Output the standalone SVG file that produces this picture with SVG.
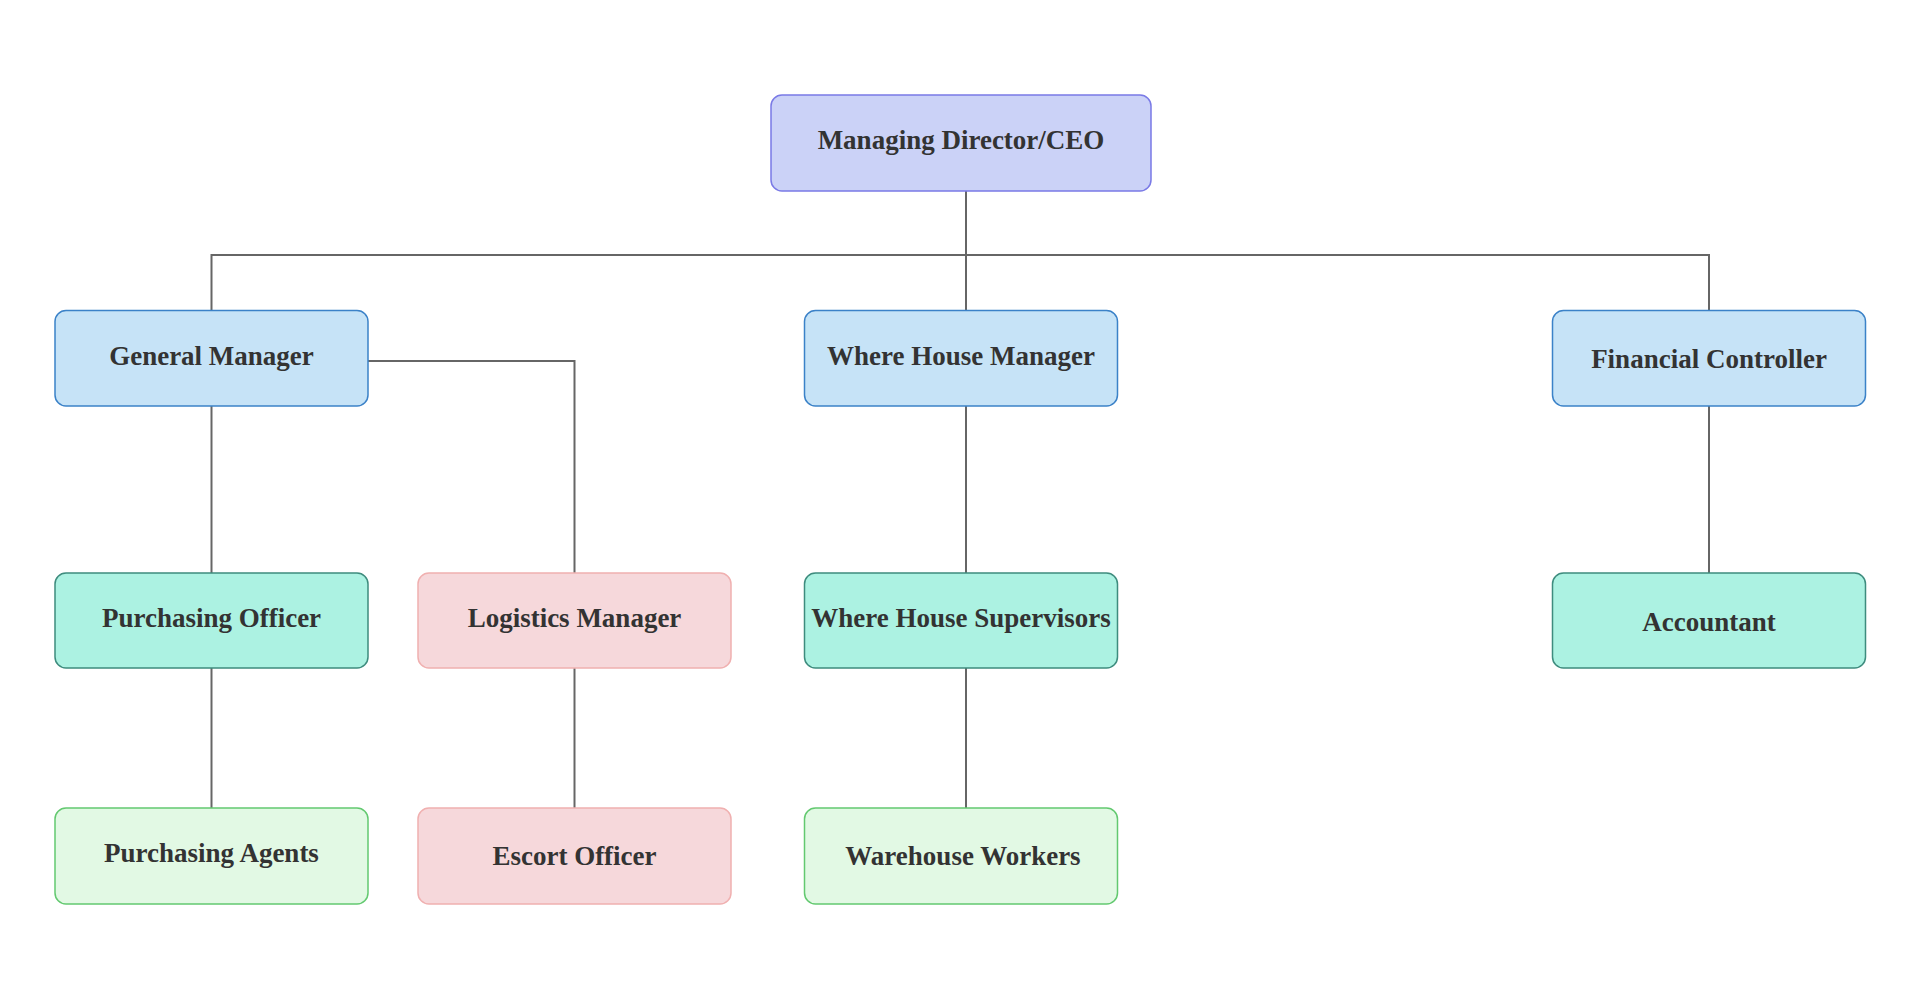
<svg xmlns="http://www.w3.org/2000/svg" width="1920" height="1000" viewBox="0 0 1920 1000">
<style>
.n rect{stroke-width:1.5}
.t{font-family:"Liberation Serif","Times New Roman",serif;font-weight:bold;font-size:27px;fill:#333333;text-anchor:middle}
.ceo rect{fill:#cbd2f7;stroke:#7a7ae6}
.blue rect{fill:#c6e3f7;stroke:#3b82c8}
.teal rect{fill:#acf2e2;stroke:#3e8c7e}
.pink rect{fill:#f6d8db;stroke:#f0b0b0}
.green rect{fill:#e2f9e4;stroke:#63c970}
#connectors path{fill:none;stroke:#666666;stroke-width:2}
</style>
<rect width="1920" height="1000" fill="#ffffff"/>
<g id="connectors">
<path d="M966 191V310.5"/>
<path d="M211.5 310.5V255H1709V310.5"/>
<path d="M211.5 406V573"/>
<path d="M368 361H574.5V573"/>
<path d="M966 406V573"/>
<path d="M1709 406V573"/>
<path d="M211.5 668V808"/>
<path d="M574.5 668V808"/>
<path d="M966 668V808"/>
</g>
<g id="ceo" class="n ceo"><rect x="771" y="95" width="380" height="96" rx="11"/><text class="t" x="961" y="149">Managing Director/CEO</text></g>
<g id="gm" class="n blue"><rect x="55" y="310.5" width="313" height="95.5" rx="11"/><text class="t" x="211.5" y="365">General Manager</text></g>
<g id="whm" class="n blue"><rect x="804.5" y="310.5" width="313" height="95.5" rx="11"/><text class="t" x="961" y="365">Where House Manager</text></g>
<g id="fc" class="n blue"><rect x="1552.5" y="310.5" width="313" height="95.5" rx="11"/><text class="t" x="1709" y="368">Financial Controller</text></g>
<g id="po" class="n teal"><rect x="55" y="573" width="313" height="95" rx="11"/><text class="t" x="211.5" y="627">Purchasing Officer</text></g>
<g id="lm" class="n pink"><rect x="418" y="573" width="313" height="95" rx="11"/><text class="t" x="574.5" y="627">Logistics Manager</text></g>
<g id="whs" class="n teal"><rect x="804.5" y="573" width="313" height="95" rx="11"/><text class="t" x="961" y="627">Where House Supervisors</text></g>
<g id="acc" class="n teal"><rect x="1552.5" y="573" width="313" height="95" rx="11"/><text class="t" x="1709" y="630.5">Accountant</text></g>
<g id="pa" class="n green"><rect x="55" y="808" width="313" height="96" rx="11"/><text class="t" x="211.5" y="862">Purchasing Agents</text></g>
<g id="eo" class="n pink"><rect x="418" y="808" width="313" height="96" rx="11"/><text class="t" x="574.5" y="865">Escort Officer</text></g>
<g id="ww" class="n green"><rect x="804.5" y="808" width="313" height="96" rx="11"/><text class="t" x="963" y="865">Warehouse Workers</text></g>
</svg>
